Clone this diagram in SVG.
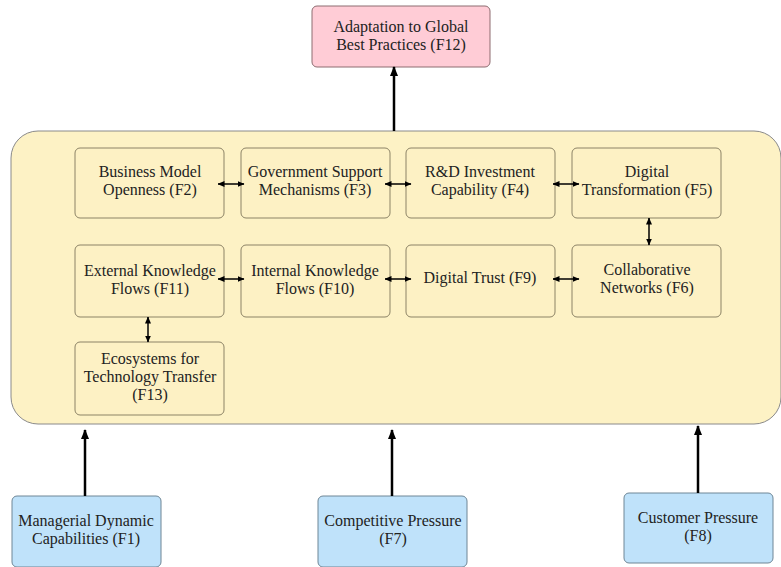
<svg xmlns="http://www.w3.org/2000/svg" width="781" height="567" viewBox="0 0 781 567">
<style>
text{font-family:'Liberation Serif','Times New Roman',serif;font-size:16px;fill:#222;text-anchor:middle}
.inner{fill:#fdf1c4;stroke:#8c8366;stroke-width:1}
.blue{fill:#bfe2fa;stroke:#6e8696;stroke-width:1}
.pink{fill:#ffccd6;stroke:#8d6c70;stroke-width:1}
.big{stroke:#000;stroke-width:2.5;fill:none;marker-end:url(#ah)}
.dbl{stroke:#000;stroke-width:1.5;fill:none;marker-start:url(#sh);marker-end:url(#sh)}
</style>
<defs>
<marker id="ah" markerUnits="userSpaceOnUse" markerWidth="10" markerHeight="10" viewBox="0 0 10 10" refX="9" refY="5" orient="auto"><path d="M0,1 L10,5 L0,9 Z" fill="#000"/></marker>
<marker id="sh" markerUnits="userSpaceOnUse" markerWidth="7" markerHeight="7" viewBox="0 0 7 7" refX="6.5" refY="3.5" orient="auto-start-reverse"><path d="M0,0.5 L7,3.5 L0,6.5 Z" fill="#000"/></marker>
</defs>
<g id="container"><rect x="11" y="131" width="770" height="293" rx="27" fill="#fdf2c5" stroke="#8a8a8a" stroke-width="1"/></g>
<g id="F12"><rect class="pink" x="312" y="6" width="178" height="61" rx="5"/><text x="401" y="32">Adaptation to Global</text><text x="401" y="50">Best Practices (F12)</text></g>
<g id="F2"><rect class="inner" x="75" y="148" width="149" height="70" rx="5"/><text x="150" y="177">Business Model</text><text x="150" y="195">Openness (F2)</text></g>
<g id="F3"><rect class="inner" x="241" y="148" width="149" height="70" rx="5"/><text x="315" y="177">Government Support</text><text x="315" y="195">Mechanisms (F3)</text></g>
<g id="F4"><rect class="inner" x="406" y="148" width="149" height="70" rx="5"/><text x="480" y="177">R&amp;D Investment</text><text x="480" y="195">Capability (F4)</text></g>
<g id="F5"><rect class="inner" x="572" y="148" width="149" height="70" rx="5"/><text x="647" y="177">Digital</text><text x="647" y="195">Transformation (F5)</text></g>
<g id="F11"><rect class="inner" x="75" y="245" width="149" height="72" rx="5"/><text x="150" y="276">External Knowledge</text><text x="150" y="294">Flows (F11)</text></g>
<g id="F10"><rect class="inner" x="241" y="245" width="149" height="72" rx="5"/><text x="315" y="276">Internal Knowledge</text><text x="315" y="294">Flows (F10)</text></g>
<g id="F9"><rect class="inner" x="406" y="245" width="149" height="72" rx="5"/><text x="480" y="283">Digital Trust (F9)</text></g>
<g id="F6"><rect class="inner" x="572" y="245" width="149" height="72" rx="5"/><text x="647" y="275">Collaborative</text><text x="647" y="293">Networks (F6)</text></g>
<g id="F13"><rect class="inner" x="75" y="342" width="149" height="73" rx="5"/><text x="150" y="364">Ecosystems for</text><text x="150" y="382">Technology Transfer</text><text x="150" y="400">(F13)</text></g>
<g id="F1"><rect class="blue" x="12" y="496" width="149" height="71" rx="5"/><text x="86" y="526">Managerial Dynamic</text><text x="86" y="544">Capabilities (F1)</text></g>
<g id="F7"><rect class="blue" x="318" y="496" width="149" height="71" rx="5"/><text x="393" y="526">Competitive Pressure</text><text x="393" y="544">(F7)</text></g>
<g id="F8"><rect class="blue" x="624" y="493" width="149" height="70" rx="5"/><text x="698" y="523">Customer Pressure</text><text x="698" y="541">(F8)</text></g>
<g id="connectors">
<line class="big" x1="394" y1="131" x2="394" y2="67"/>
<line class="big" x1="85" y1="496" x2="85" y2="430"/>
<line class="big" x1="392" y1="496" x2="392" y2="430"/>
<line class="big" x1="698" y1="493" x2="698" y2="426"/>
<line class="dbl" x1="218" y1="184" x2="244" y2="184"/>
<line class="dbl" x1="385" y1="184" x2="411" y2="184"/>
<line class="dbl" x1="553" y1="184" x2="579" y2="184"/>
<line class="dbl" x1="649" y1="218" x2="649" y2="245"/>
<line class="dbl" x1="218" y1="279" x2="244" y2="279"/>
<line class="dbl" x1="385" y1="279" x2="411" y2="279"/>
<line class="dbl" x1="553" y1="279" x2="579" y2="279"/>
<line class="dbl" x1="148" y1="317" x2="148" y2="342"/>
</g>
</svg>
